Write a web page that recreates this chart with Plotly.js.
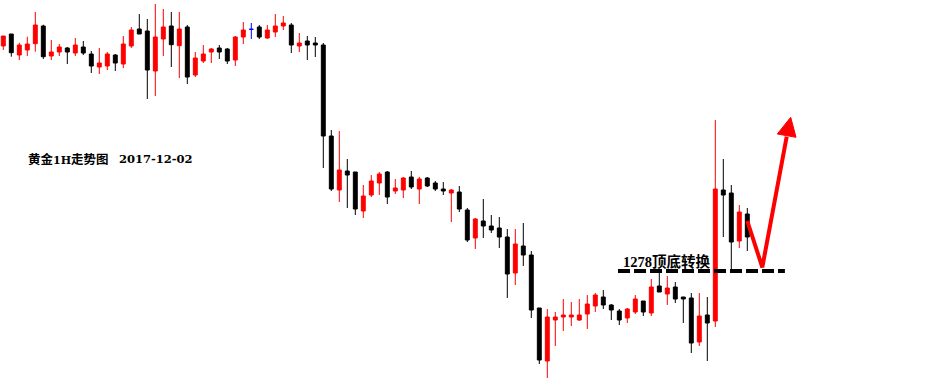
<!DOCTYPE html>
<html>
<head>
<meta charset="utf-8">
<script src="https://cdn.plot.ly/plotly-3.0.1.min.js"></script>
<style>html,body{margin:0;padding:0;background:#fff;}#chart{width:947px;height:381px;}</style>
</head>
<body>
<div id="chart"></div>
<script>
// Gold 1H candles (approximate prices)
var opens = [1300.5,1301.7,1299.6,1300.1,1300.73,1302.5,1299.5,1299.9,1300.3,1299.8,
1300.4,1299.7,1298.4,1298.5,1299.6,1298.7,1300.5,1302.2,1302.0,1298.0,
1301.2,1302.5,1300.53,1302.4,1297.6,1299.0,1299.9,1300.3,1300.2,1299.1,
1301.4,1302.17,1302.4,1301.3,1301.9,1302.5,1302.6,1300.5,1301.0,1300.8,
1300.6,1291.5,1286.1,1288.0,1287.9,1284.0,1285.6,1286.8,1287.9,1286.0,
1286.1,1287.4,1286.2,1287.3,1286.8,1286.2,1285.8,1285.9,1284.1,1281.3,
1283.0,1282.5,1282.3,1281.4,1277.8,1280.5,1279.6,1274.3,1269.0,1273.1,
1273.4,1273.4,1273.1,1273.7,1274.5,1275.4,1274.6,1274.0,1273.3,1273.9,
1275.0,1273.8,1276.5,1275.7,1276.4,1275.4,1275.3,1270.9,1273.6,1273.0,
1286.1,1285.8,1281.0,1283.7];
var highs = [1301.5,1301.7,1300.83,1301.43,1303.9,1302.63,1301.1,1300.7,1300.4,1301.3,
1301.0,1300.0,1300.3,1299.9,1299.7,1301.5,1302.4,1303.7,1303.2,1304.7,
1304.2,1303.9,1303.9,1302.6,1299.9,1300.6,1300.3,1300.6,1300.3,1301.5,
1302.9,1302.8,1302.6,1302.6,1303.7,1303.5,1302.8,1301.8,1301.5,1301.4,
1300.8,1292.1,1292.0,1289.2,1287.9,1286.6,1287.6,1287.9,1288.0,1287.2,
1287.4,1288.0,1287.4,1287.4,1287.0,1286.9,1286.2,1286.5,1284.3,1283.3,
1285.2,1283.6,1283.4,1282.2,1282.2,1282.8,1280.0,1274.3,1274.2,1273.9,
1275.2,1274.9,1275.2,1275.6,1275.8,1276.1,1274.7,1274.2,1274.3,1275.6,
1275.0,1277.2,1277.8,1277.5,1276.9,1275.4,1275.8,1275.8,1275.4,1293.1,
1289.2,1286.6,1284.6,1284.3];
var lows = [1300.1,1299.43,1299.1,1299.5,1299.93,1299.2,1299.1,1299.5,1298.7,1299.5,
1299.6,1297.8,1297.7,1298.1,1298.0,1298.3,1300.3,1301.7,1295.2,1295.5,
1299.5,1298.4,1297.3,1296.7,1297.4,1298.8,1298.8,1299.2,1298.7,1298.5,
1300.7,1301.2,1301.2,1301.2,1301.4,1302.1,1299.8,1299.9,1299.1,1299.4,
1288.3,1286.0,1284.9,1284.3,1283.6,1283.3,1285.4,1285.6,1284.7,1285.7,
1285.3,1286.2,1284.7,1286.4,1286.0,1285.6,1282.9,1283.9,1280.9,1280.2,
1281.3,1281.8,1280.3,1275.3,1276.6,1278.5,1273.3,1268.7,1267.3,1270.5,
1272.0,1272.5,1273.0,1272.2,1273.9,1274.2,1273.1,1272.6,1272.8,1273.7,
1273.5,1273.5,1275.9,1274.6,1274.8,1272.8,1269.8,1270.5,1269.0,1272.4,
1281.4,1277.9,1280.3,1280.0];
var closes = [1301.5,1299.83,1300.6,1300.7,1302.6,1299.43,1299.9,1300.4,1299.9,1300.6,
1299.8,1298.5,1298.8,1299.7,1298.8,1300.7,1302.1,1301.7,1298.1,1301.4,
1302.4,1300.63,1302.2,1297.4,1299.3,1299.7,1300.2,1299.9,1299.0,1301.4,
1302.1,1302.17,1301.4,1302.1,1302.5,1302.8,1300.6,1300.8,1300.6,1300.6,
1291.5,1286.2,1288.1,1287.6,1284.2,1285.5,1287.0,1287.7,1285.4,1286.3,
1287.3,1286.4,1287.2,1286.5,1286.2,1286.0,1286.1,1284.2,1281.1,1283.2,
1282.5,1282.1,1281.4,1277.7,1280.7,1279.6,1274.1,1269.1,1273.4,1273.4,
1273.6,1273.6,1273.6,1274.7,1275.6,1274.6,1274.1,1273.1,1274.2,1275.2,
1273.9,1276.4,1275.9,1276.3,1275.2,1275.2,1270.8,1273.5,1272.8,1286.2,
1285.6,1280.9,1283.9,1281.4];
var dojiIndex = [31];            // candle drawn in blue
var levelPrice = 1278;           // 顶底转换 level
var levelSpan = [76.84, 97.7];   // candle-index span of the dashed level
var arrowX = [93.0, 94.875, 97.925];
var arrowY = [1283.0, 1278.37, 1291.43];
var headX = [98.425, 96.75, 99.09];
var headY = [1293.37, 1291.7, 1291.37];
var titleCjk1 = '黄金', titleLatin1 = '1H', titleCjk2 = '走势图', titleDate = '2017-12-02';
var levelNum = '1278', levelCjk = '顶底转换';

var idx = opens.map(function(_, i){ return i; });
function pick(arr, keep){ return arr.map(function(v,i){ return keep(i) ? v : null; }); }
var isDoji = function(i){ return dojiIndex.indexOf(i) >= 0; };
var notDoji = function(i){ return !isDoji(i); };

var main = {
  type: 'candlestick', x: idx,
  open: pick(opens, notDoji), high: pick(highs, notDoji), low: pick(lows, notDoji), close: pick(closes, notDoji),
  increasing: {line: {color: '#ff0000', width: 1}, fillcolor: '#ff0000'},
  decreasing: {line: {color: '#000000', width: 1}, fillcolor: '#000000'},
  whiskerwidth: 0, hoverinfo: 'skip', showlegend: false
};
var doji = {
  type: 'candlestick', x: dojiIndex,
  open: dojiIndex.map(function(i){return opens[i];}),
  high: dojiIndex.map(function(i){return highs[i];}),
  low: dojiIndex.map(function(i){return lows[i];}),
  close: dojiIndex.map(function(i){return closes[i];}),
  increasing: {line: {color: '#0000ff', width: 1}, fillcolor: '#0000ff'},
  decreasing: {line: {color: '#0000ff', width: 1}, fillcolor: '#0000ff'},
  whiskerwidth: 0, hoverinfo: 'skip', showlegend: false
};
var arrowLine = {
  type: 'scatter', mode: 'lines', x: arrowX, y: arrowY,
  line: {color: '#ff0000', width: 4}, hoverinfo: 'skip', showlegend: false
};
var arrowHead = {
  type: 'scatter', mode: 'lines', x: headX.concat([headX[0]]), y: headY.concat([headY[0]]),
  fill: 'toself', fillcolor: '#ff0000', line: {color: '#ff0000', width: 1},
  hoverinfo: 'skip', showlegend: false
};

var cjk = 'Noto Sans CJK SC';
var titleHtml = '<b><span style="font-family:' + cjk + ';font-size:12.5px">' + titleCjk1 + '</span>' +
  '<span style="font-family:DejaVu Serif;font-size:11px">' + titleLatin1 + '</span>' +
  '<span style="font-family:' + cjk + ';font-size:12.5px">' + titleCjk2 + '</span></b>';
var dateHtml = '<b>' + titleDate + '</b>';
var levelHtml = '<b>' + levelNum + '<span style="font-family:' + cjk + ';font-size:14.5px">' + levelCjk + '</span></b>';

var layout = {
  width: 947, height: 381,
  margin: {l: 0, r: 0, t: 0, b: 0, pad: 0},
  paper_bgcolor: '#ffffff', plot_bgcolor: '#ffffff',
  showlegend: false,
  xaxis: {range: [-0.4125, 117.9625], visible: false, rangeslider: {visible: false}, fixedrange: true},
  yaxis: {range: [1267.0, 1305.1], visible: false, fixedrange: true},
  shapes: [{
    type: 'line', xref: 'x', yref: 'y',
    x0: levelSpan[0], x1: levelSpan[1], y0: levelPrice, y1: levelPrice,
    line: {color: '#000000', width: 4, dash: '12px,4px'}
  }],
  annotations: [
    {xref: 'paper', yref: 'paper', x: 26/947, y: 1 - 159/381, xanchor: 'left', yanchor: 'middle',
     text: titleHtml, showarrow: false,
     font: {family: 'DejaVu Serif, Noto Sans CJK SC, serif', size: 12, color: '#000000'}},
    {xref: 'paper', yref: 'paper', x: 117/947, y: 1 - 159/381, xanchor: 'left', yanchor: 'middle',
     text: dateHtml, showarrow: false,
     font: {family: 'DejaVu Serif, serif', size: 11.5, color: '#000000'}},
    {xref: 'paper', yref: 'paper', x: 621/947, y: 1 - 260/381, xanchor: 'left', yanchor: 'middle',
     text: levelHtml, showarrow: false,
     font: {family: 'Liberation Serif, Noto Sans CJK SC, serif', size: 14.5, color: '#000000'}}
  ]
};
Plotly.newPlot('chart', [main, doji, arrowLine, arrowHead], layout, {staticPlot: true, displayModeBar: false});
</script>
</body>
</html>
